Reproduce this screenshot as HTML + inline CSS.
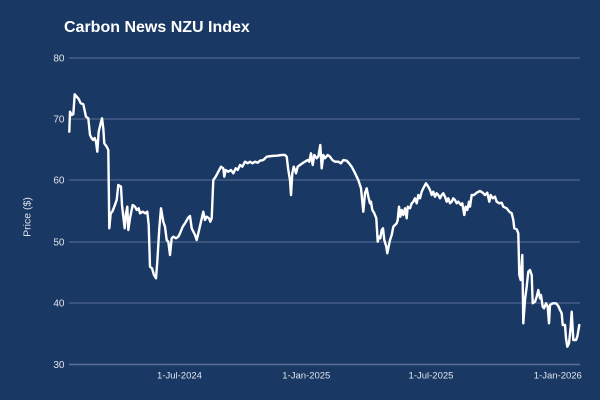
<!DOCTYPE html>
<html>
<head>
<meta charset="utf-8">
<style>
  html, body { margin: 0; padding: 0; background: #1a3864; }
  body { width: 600px; height: 400px; overflow: hidden; }
  svg { display: block; }
  text { font-family: "Liberation Sans", Arial, sans-serif; }
</style>
</head>
<body>
<svg width="600" height="400" viewBox="0 0 600 400" xmlns="http://www.w3.org/2000/svg">
  <rect x="0" y="0" width="600" height="400" fill="#1a3864"/>
  <text x="64" y="32" font-size="16" font-weight="bold" fill="#ffffff">Carbon News NZU Index</text>

  <!-- gridlines -->
  <g stroke="#5a7096" stroke-width="1" shape-rendering="crispEdges">
    <line x1="69" y1="58" x2="580" y2="58"/>
    <line x1="69" y1="119" x2="580" y2="119"/>
    <line x1="69" y1="180" x2="580" y2="180"/>
    <line x1="69" y1="242" x2="580" y2="242"/>
    <line x1="69" y1="303" x2="580" y2="303"/>
  </g>
  <line x1="69" y1="364.5" x2="580" y2="364.5" stroke="#5a7096" stroke-width="1.5"/>

  <!-- y tick labels -->
  <g font-size="10" fill="#dfe4ec" text-anchor="end">
    <text x="64.5" y="61.5">80</text>
    <text x="64.5" y="122.5">70</text>
    <text x="64.5" y="183.5">60</text>
    <text x="64.5" y="245.5">50</text>
    <text x="64.5" y="306.5">40</text>
    <text x="64.5" y="368">30</text>
  </g>

  <!-- x tick labels -->
  <g font-size="9.5" fill="#dfe4ec" text-anchor="middle">
    <text x="179.5" y="378.5">1-Jul-2024</text>
    <text x="306.3" y="378.5">1-Jan-2025</text>
    <text x="431" y="378.5">1-Jul-2025</text>
    <text x="557.8" y="378.5">1-Jan-2026</text>
  </g>

  <!-- y axis title -->
  <text x="0" y="0" font-size="10.5" fill="#dfe4ec" text-anchor="middle" transform="translate(30.5,217) rotate(-90)">Price ($)</text>

  <!-- series -->
  <polyline fill="none" stroke="#ffffff" stroke-width="2.4" stroke-linejoin="round" stroke-linecap="round"
    points="69.3,131.7 70,111.7 71.7,115 73.3,114.3 74.7,94.3 76.7,96.7 78.7,99 80.7,103.3 83.3,104.3 86,116.7 88.3,118.3 90,135 91.7,138.3 93.3,140 94.7,138 96,141.7 97.3,151.7 98.7,131.7 100.7,123.3 102,118.3 103.3,128.3 104.3,143.3 106.7,146.7 108.3,150 109.3,228.3 110.7,213.3 112.3,211.7 114.3,206.7 116.7,200 118.3,185 121,186.7 122,205 123.3,216.7 124.7,228.3 126,213.3 127.3,206.7 128.3,230 130,218.3 131.3,211.7 132.7,205 135,206.7 136.7,210 138.7,208.3 140,213.3 142.7,211.7 145.3,213.3 147.3,211.7 148.7,225 150,266.7 152,268.3 154,275 156,278.3 157.3,261.7 159.3,228.3 161,208.3 163.3,221.7 165,226.7 166.7,240 168.3,241.7 170,255 171.7,238.3 173.3,236.7 176,238.3 178.3,236.7 180,233.3 182.7,226.7 185,223.3 188,218 190,216 191.7,228.3 195,235 196.7,240 198.3,233.3 201,221.7 203.3,211.7 205,220 206.7,216.7 209,218.3 210.3,221.7 211.7,218.3 213.3,180 215.7,176.7 218.3,171.7 221,166.7 223.3,168.3 224.3,176.7 225.7,170 228.3,171.7 231,170 233.3,173.3 235.7,168.3 237.7,170 240,165 242.3,166.7 245,161.7 247.7,163.3 250,161.7 252.3,163.3 255,161.7 257.7,162.7 260,160.7 263.3,160 266.7,156.7 271.7,156 276.7,155.7 281.7,155 285,155 286.7,156.7 288.3,170 290,180 291,195 292.3,173.3 293.7,166.7 295,170 296,173.3 297.7,166.7 300,165 302.3,163.3 305,161.7 307.7,160 309.3,161.7 311,153.3 312.7,165 314.3,155 316.7,158.3 318.3,156.7 320.3,145 321.7,168.3 323.3,155 325,158.3 327.7,155 330,156.7 332.3,160 335,161.7 338.3,161.7 341,163.3 343.3,160 346.7,160.7 349,163.3 351.7,166.7 354.3,171.7 356.7,176.7 358.3,180 361,188.3 363.3,211.7 365,193.3 366.7,188.3 368.3,196.7 370,203.3 371,201.7 372.3,210 374.3,213.3 376.3,218.3 377.7,241.7 379,236.7 380.3,238.3 381.7,230 383,228.3 384.3,240 386.3,246.7 387.3,253.3 388.3,248.3 390,240 391.7,235 393.3,226.7 395,225 396.7,223.3 397.7,220 399,206.7 400.3,216.7 401.7,210 403.3,215 405,208.3 406.7,218.3 407.7,206.7 410,208.3 411.7,203.3 413.3,201.7 415,198.3 416.7,203.3 418.3,195 420,198.3 421.7,191.7 423.3,188.3 426,183.3 428.3,186.7 430,190 431.7,195 433.3,191.7 435,196.7 436.7,193.3 438.3,195 440,198.3 441.7,195 443.3,193.3 445,196.7 446.7,201.7 448.3,198.3 450,203.3 451.7,201.7 453.3,198.3 455,200 456.7,203.3 458.3,201.7 461,205 462.3,203.3 464.3,215 465.7,206.7 467.3,210 469,201.7 470,206.7 471.7,195 474,195 476.7,192.7 480,191 482.7,192.7 485,195 487.3,192.7 489.3,201.7 490.7,195 492.7,198.3 495,196.7 496.7,201.7 499.3,203.3 501.7,202.7 503.3,206.7 506.7,208.3 509.3,211.7 511.7,213.3 513.3,220 514.3,228.3 516.7,229.3 518.3,233.3 519.3,275 520.7,280 522.3,255 523.3,323.3 525,300 526.7,286.7 528.3,271.7 530,270 531.7,275 532.7,303.3 535,301.7 536.7,296.7 538.3,290 540,298.3 541,295 542.7,306.7 544,308.3 546,303.3 547.7,306.7 549,323.3 550,305 552.7,303.3 556,303.3 558.3,306 560,310 561.7,313.3 562.7,325 565,325 566,338.3 567.3,346.7 569,343.3 570.7,326.7 571.7,311.7 573.3,340 576,340 577.3,336.7 579.3,325"/>
</svg>
</body>
</html>
